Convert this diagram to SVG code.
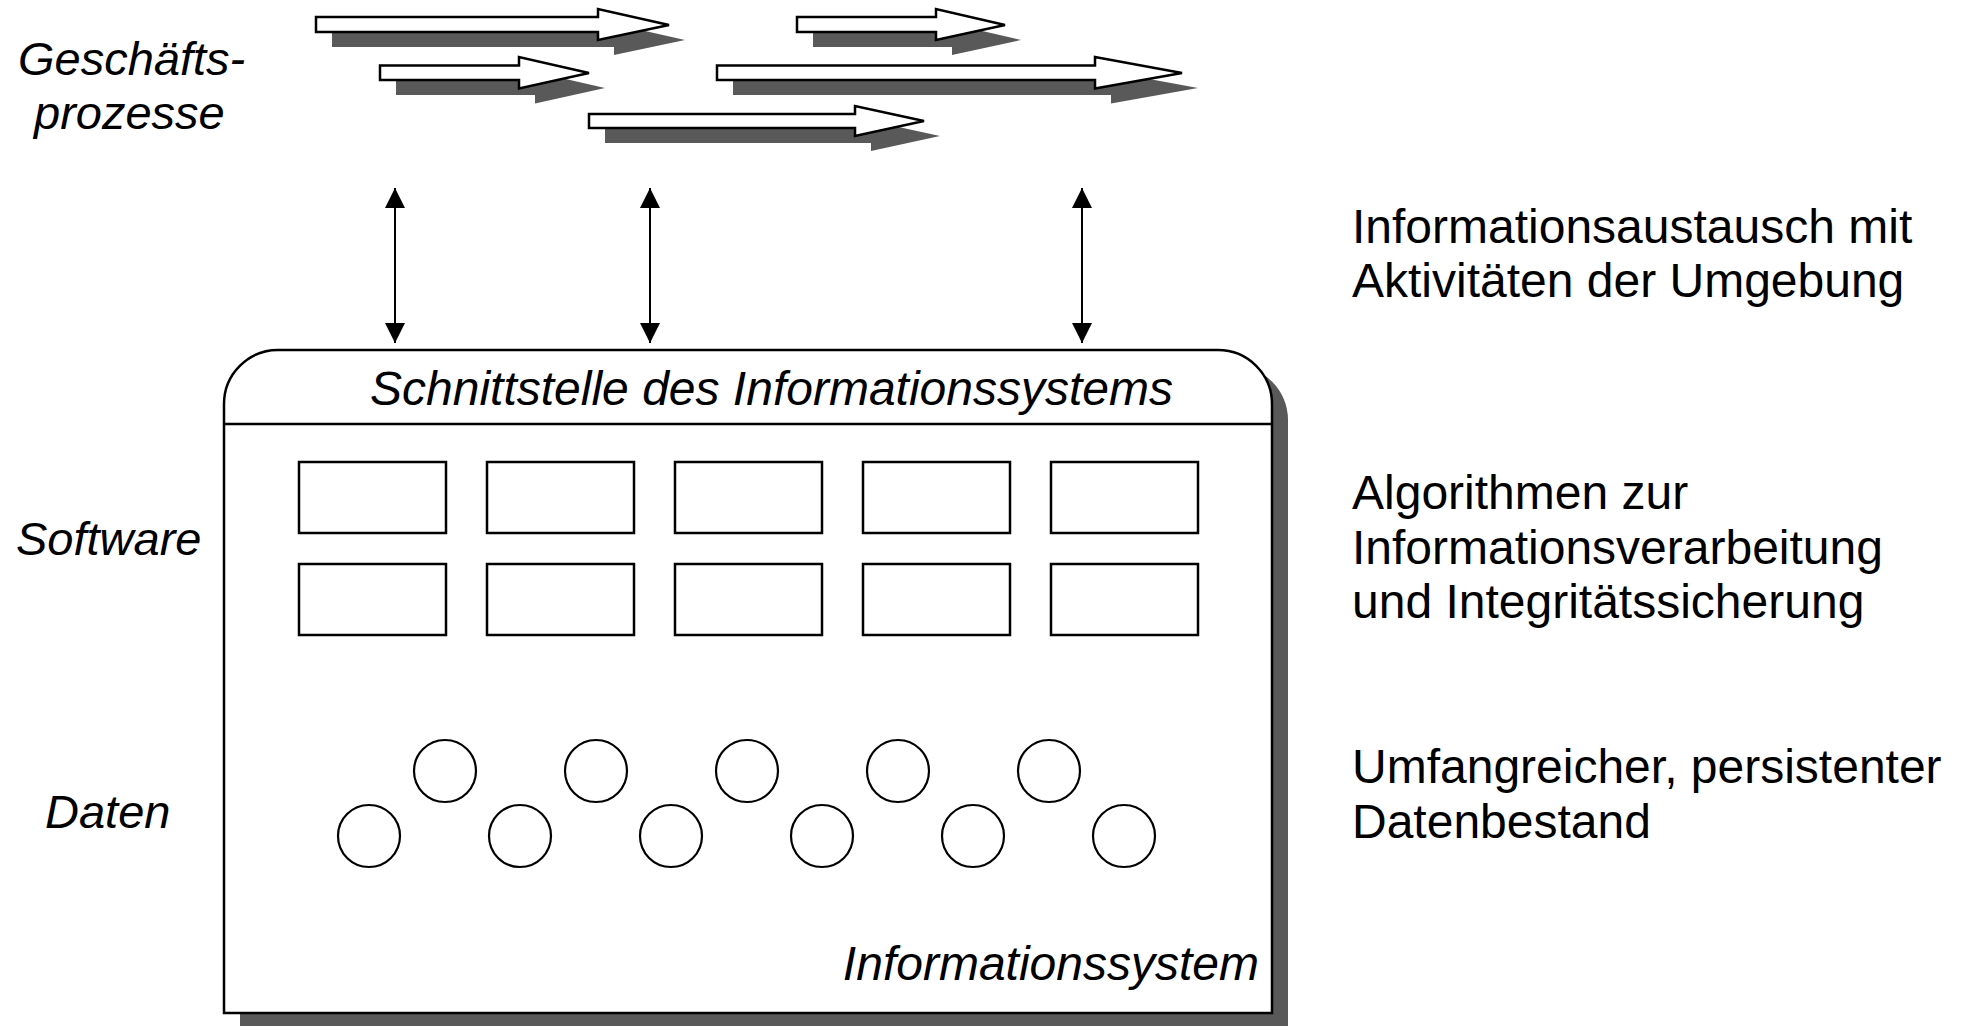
<svg xmlns="http://www.w3.org/2000/svg" width="1971" height="1026" viewBox="0 0 1971 1026">
  <defs>
    <style>
      text { font-family: "Liberation Sans", Arial, sans-serif; fill: #000; }
      .it { font-style: italic; font-size: 47px; }
      .it48 { font-style: italic; font-size: 48px; }
      .rt { font-size: 48px; }
      .proc { fill: #fff; stroke: #000; stroke-width: 2.5; stroke-linejoin: miter; }
      .shadow { fill: #595959; stroke: none; }
      .mod { fill: #fff; stroke: #000; stroke-width: 2.5; }
      .dat { fill: #fff; stroke: #000; stroke-width: 2.2; }
      .conn { stroke: #000; stroke-width: 2; fill: none; }
    </style>
    <marker id="ah" viewBox="0 0 20 24" refX="20" refY="12" markerWidth="20" markerHeight="24" markerUnits="userSpaceOnUse" orient="auto-start-reverse">
      <path d="M0,2 L20,12 L0,22 Z" fill="#000"/>
    </marker>
  </defs>
  <rect x="0" y="0" width="1971" height="1026" fill="#fff"/>

  <!-- Geschäftsprozesse label -->
  <g id="label-prozesse">
    <text class="it" x="18" y="75">Geschäfts-</text>
    <text class="it" x="34" y="129">prozesse</text>
  </g>

  <!-- business process arrows -->
  <g id="process-arrows">
    <g id="p1">
      <polygon class="shadow" transform="translate(16,15)" points="316,17 598,17 598,9 669,25 598,40 598,32 316,32"/>
      <polygon class="proc" points="316,17 598,17 598,9 669,25 598,40 598,32 316,32"/>
    </g>
    <g id="p2">
      <polygon class="shadow" transform="translate(16,15)" points="380,65.5 519,65.5 519,57 589,73 519,88.5 519,80 380,80"/>
      <polygon class="proc" points="380,65.5 519,65.5 519,57 589,73 519,88.5 519,80 380,80"/>
    </g>
    <g id="p3">
      <polygon class="shadow" transform="translate(16,15)" points="797,17 936,17 936,9 1005,25 936,40 936,32 797,32"/>
      <polygon class="proc" points="797,17 936,17 936,9 1005,25 936,40 936,32 797,32"/>
    </g>
    <g id="p4">
      <polygon class="shadow" transform="translate(16,15)" points="717,65.5 1095,65.5 1095,57 1182,73 1095,88.5 1095,80 717,80"/>
      <polygon class="proc" points="717,65.5 1095,65.5 1095,57 1182,73 1095,88.5 1095,80 717,80"/>
    </g>
    <g id="p5">
      <polygon class="shadow" transform="translate(16,15)" points="589,114 855,114 855,106 924,121 855,136 855,128 589,128"/>
      <polygon class="proc" points="589,114 855,114 855,106 924,121 855,136 855,128 589,128"/>
    </g>
  </g>

  <!-- connectors -->
  <g id="connectors">
    <line class="conn" x1="395" y1="188" x2="395" y2="343" marker-start="url(#ah)" marker-end="url(#ah)"/>
    <line class="conn" x1="650" y1="188" x2="650" y2="343" marker-start="url(#ah)" marker-end="url(#ah)"/>
    <line class="conn" x1="1082" y1="188" x2="1082" y2="343" marker-start="url(#ah)" marker-end="url(#ah)"/>
  </g>

  <!-- Informationssystem box -->
  <g id="informationssystem">
    <path class="shadow" transform="translate(16,16)" d="M224,1013 V404 A54,54 0 0 1 278,350 H1218 A54,54 0 0 1 1272,404 V1013 Z"/>
    <path d="M224,1013 V404 A54,54 0 0 1 278,350 H1218 A54,54 0 0 1 1272,404 V1013 Z" fill="#fff" stroke="#000" stroke-width="2.5"/>
    <line x1="224" y1="424" x2="1272" y2="424" stroke="#000" stroke-width="2.5"/>
    <text class="it48" x="370" y="405">Schnittstelle des Informationssystems</text>
    <text class="it48" x="1259" y="980" text-anchor="end">Informationssystem</text>
  </g>

  <!-- software modules -->
  <g id="software">
    <rect id="m1" class="mod" x="299" y="462" width="147" height="71"/>
    <rect id="m2" class="mod" x="487" y="462" width="147" height="71"/>
    <rect id="m3" class="mod" x="675" y="462" width="147" height="71"/>
    <rect id="m4" class="mod" x="863" y="462" width="147" height="71"/>
    <rect id="m5" class="mod" x="1051" y="462" width="147" height="71"/>
    <rect id="m6" class="mod" x="299" y="564" width="147" height="71"/>
    <rect id="m7" class="mod" x="487" y="564" width="147" height="71"/>
    <rect id="m8" class="mod" x="675" y="564" width="147" height="71"/>
    <rect id="m9" class="mod" x="863" y="564" width="147" height="71"/>
    <rect id="m10" class="mod" x="1051" y="564" width="147" height="71"/>
  </g>

  <!-- data -->
  <g id="daten">
    <circle id="d1" class="dat" cx="445" cy="771" r="31"/>
    <circle id="d2" class="dat" cx="596" cy="771" r="31"/>
    <circle id="d3" class="dat" cx="747" cy="771" r="31"/>
    <circle id="d4" class="dat" cx="898" cy="771" r="31"/>
    <circle id="d5" class="dat" cx="1049" cy="771" r="31"/>
    <circle id="d6" class="dat" cx="369" cy="836" r="31"/>
    <circle id="d7" class="dat" cx="520" cy="836" r="31"/>
    <circle id="d8" class="dat" cx="671" cy="836" r="31"/>
    <circle id="d9" class="dat" cx="822" cy="836" r="31"/>
    <circle id="d10" class="dat" cx="973" cy="836" r="31"/>
    <circle id="d11" class="dat" cx="1124" cy="836" r="31"/>
  </g>

  <!-- left labels -->
  <g id="label-software"><text class="it" x="16" y="555">Software</text></g>
  <g id="label-daten"><text class="it" x="45" y="828">Daten</text></g>

  <!-- right descriptions -->
  <g id="desc-schnittstelle">
    <text class="rt" x="1352" y="243">Informationsaustausch mit</text>
    <text class="rt" x="1352" y="297">Aktivitäten der Umgebung</text>
  </g>
  <g id="desc-software">
    <text class="rt" x="1352" y="509">Algorithmen zur</text>
    <text class="rt" x="1352" y="564">Informationsverarbeitung</text>
    <text class="rt" x="1352" y="618">und Integritätssicherung</text>
  </g>
  <g id="desc-daten">
    <text class="rt" x="1352" y="783">Umfangreicher, persistenter</text>
    <text class="rt" x="1352" y="838">Datenbestand</text>
  </g>
</svg>
